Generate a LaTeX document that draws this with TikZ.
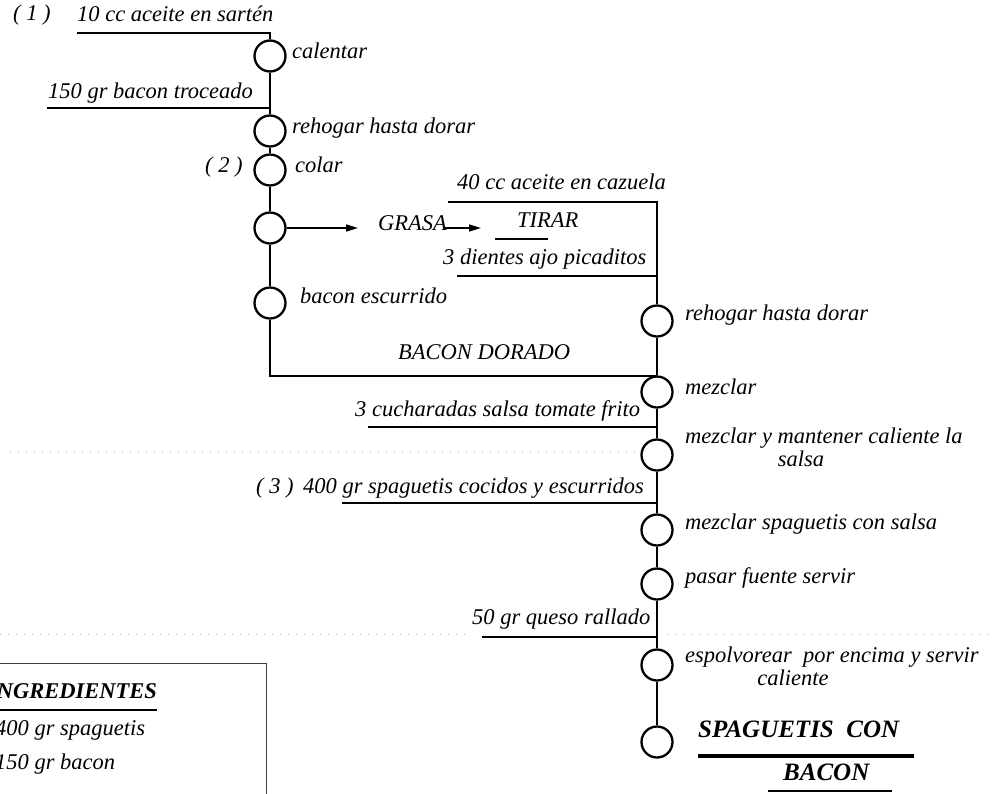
\documentclass[tikz,border=0pt]{standalone}
\usepackage{fontspec}
\setmainfont{Liberation Serif}
\usetikzlibrary{arrows.meta}
\tikzset{
  txt/.style={font=\fontsize{22.5}{26}\selectfont\itshape, inner sep=0pt, anchor=mid west},
  txtc/.style={font=\fontsize{22.5}{26}\selectfont\itshape, inner sep=0pt, anchor=mid},
  boldtxt/.style={font=\fontsize{22.5}{26}\selectfont\bfseries\itshape, inner sep=0pt, anchor=mid west},
  ttl/.style={font=\fontsize{25}{30}\selectfont\bfseries\itshape, inner sep=0pt, anchor=mid west},
  proc/.style={circle, draw, line width=2.3pt, minimum size=31pt, inner sep=0pt},
  link/.style={line width=2.2pt},
  flow/.style={line width=1.6pt, -{Triangle[length=12pt,width=7pt]}},
  fold/.style={gray!55, line width=0.9pt, dash pattern=on 1pt off 7pt}
}
\begin{document}
\begin{tikzpicture}[x=1pt,y=-1pt]
\useasboundingbox (0,0) rectangle (992,793);
\clip (0,0) rectangle (992,793);
\fill[white] (0,0) rectangle (992,793);

% faint fold marks across the sheet
\draw[fold] (10,452) -- (635,452);
\draw[fold] (0,634) -- (468,634);
\draw[fold] (668,634) -- (992,634);

% ---------------- frying pan branch ----------------
\node[proc] (c1) at (270,56) {};
\node[proc] (c2) at (270,131) {};
\node[proc] (c3) at (270,170) {};
\node[proc] (c4) at (270,228) {};
\node[proc] (c5) at (270,303) {};

\node[txt] (n1) at (13,18) {( 1 )};
\node[txt] (i1) at (77,19) {10 cc aceite en sartén};
\coordinate (in1) at (77,33);
\node[txt] (s1) at (292,56) {calentar};

\node[txt] (i2) at (48,96) {150 gr bacon troceado};
\coordinate (in2) at (47,108);
\node[txt] (s2) at (292,131) {rehogar hasta dorar};

\node[txt] (n2) at (205,170) {( 2 )};
\node[txt] (s3) at (295,170) {colar};

\node[txt] (grasa) at (378,228) {GRASA};
\node[txt] (tirar) at (517,225) {TIRAR};
\draw[line width=2pt] (495,239) -- (548,239);

\node[txt] (s5) at (300,301) {bacon escurrido};

\draw[link] (in1) -| (c1);
\draw[link] (in2) -| (c2);
\draw[link] (c1) -- (c2);
\draw[link] (c2) -- (c3);
\draw[link] (c3) -- (c4);
\draw[link] (c4) -- (c5);
\draw[flow, shorten >=20pt] (c4.east) -- (c4.east -| grasa.west);
\draw[flow, shorten <=-3pt, shorten >=36pt] (grasa.mid east) -- (grasa.mid east -| tirar.west);

% ---------------- casserole branch ----------------
\node[proc] (c6) at (657,321) {};
\node[proc] (c7) at (657,392) {};
\node[proc] (c8) at (657,455) {};
\node[proc] (c9) at (657,530) {};
\node[proc] (c10) at (657,584) {};
\node[proc] (c11) at (657,665) {};
\node[proc] (c12) at (657,742) {};

\node[txt] (i6) at (457,187) {40 cc aceite en cazuela};
\coordinate (in6) at (448,202);
\node[txt] (i6b) at (443,262) {3 dientes ajo picaditos};
\coordinate (in6b) at (457,276);
\node[txt] (s6) at (685,318) {rehogar hasta dorar};

\node[txt] (bd) at (398,357) {BACON DORADO};
\coordinate (j5) at (657,376);
\node[txt] (s7) at (685,392) {mezclar};

\node[txt] (i7) at (355,414) {3 cucharadas salsa tomate frito};
\coordinate (in7) at (368,427);
\node[txt] (s8) at (685,441) {mezclar y mantener caliente la};
\node[txtc] (s8b) at (801,464) {salsa};

\node[txt] (n3) at (256,491) {( 3 )};
\node[txt] (i9) at (303,491) {400 gr spaguetis cocidos y escurridos};
\coordinate (in9) at (342,503);
\node[txt] (s9) at (685,527) {mezclar spaguetis con salsa};
\node[txt] (s10) at (685,581) {pasar fuente servir};

\node[txt] (i11) at (472,622) {50 gr queso rallado};
\coordinate (in11) at (482,637);
\node[txt] (s11) at (685,660) {espolvorear\ \ por encima y servir};
\node[txtc] (s11b) at (793,683) {caliente};

\node[ttl] (t1) at (698,735) {SPAGUETIS\ \ CON};
\draw[line width=4pt] (698,756) -- (914,756);
\node[ttl] (t2) at (783,778) {BACON};
\draw[line width=2pt] (768,791) -- (892,791);

\draw[link] (in6) -| (c6);
\draw[link] (in6b) -- (in6b -| c6);
\draw[link] (c5) |- (j5);
\draw[link] (c6) -- (c7);
\draw[link] (in7) -- (in7 -| c7);
\draw[link] (c7) -- (c8);
\draw[link] (c8) -- (c9);
\draw[link] (in9) -- (in9 -| c9);
\draw[link] (c9) -- (c10);
\draw[link] (c10) -- (c11);
\draw[link] (in11) -- (in11 -| c11);
\draw[link] (c11) -- (c12);

% ---------------- ingredients panel ----------------
\draw[black!75, line width=1pt] (-20,663) rectangle (266,830);
\node[boldtxt] (ing) at (-12,696) {INGREDIENTES};
\draw[line width=2pt] (-12,710) -- (157,710);
\node[txt] (g1) at (-5,733) {400 gr spaguetis};
\node[txt] (g2) at (-5,767) {150 gr bacon};
\end{tikzpicture}
\end{document}
